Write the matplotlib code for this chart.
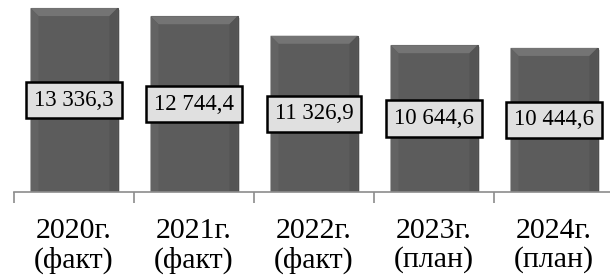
import matplotlib
matplotlib.use("Agg")
import matplotlib.pyplot as plt
import numpy as np
from matplotlib.patches import Polygon

plt.rcParams["font.family"] = ["Liberation Serif", "DejaVu Serif"]

categories = ["2020г.\n(факт)", "2021г.\n(факт)", "2022г.\n(факт)", "2023г.\n(план)", "2024г.\n(план)"]
values = [13336.3, 12744.4, 11326.9, 10644.6, 10444.6]
labels = ["13 336,3", "12 744,4", "11 326,9", "10 644,6", "10 444,6"]

W, H = 610, 277
fig = plt.figure(figsize=(W / 100, H / 100), dpi=100)
ax = fig.add_axes([14 / W, 85 / H, 600 / W, 192 / H])
ax.set_xlim(-0.5, 4.5)
ax.set_ylim(0, 13920)

x = np.arange(len(values))
bw = 0.725
# soft shadow
ax.bar(x + 0.012, values, width=bw + 0.01, bottom=-150, color="#bdbdbd", alpha=0.6, zorder=1, linewidth=0)
bars = ax.bar(x, values, width=bw, color="#5c5c5c", edgecolor="#4f4f4f", linewidth=0.8, zorder=2)

px_y = 13920 / 192
px_x = 5 / 600
for b in bars:
    x0, x1 = b.get_x(), b.get_x() + b.get_width()
    top = b.get_height()
    d = 8 * px_y
    dx = 8 * px_x
    ax.add_patch(Polygon([[x0, top], [x1, top], [x1 - dx, top - d], [x0 + dx, top - d]],
                         closed=True, facecolor="#747474", edgecolor="none", zorder=3))
    ax.add_patch(Polygon([[x0, top], [x0 + dx, top - d], [x0 + dx, 0], [x0, 0]],
                         closed=True, facecolor="#636363", edgecolor="none", zorder=3))
    ax.add_patch(Polygon([[x1, top], [x1 - dx, top - d], [x1 - dx, 0], [x1, 0]],
                         closed=True, facecolor="#545454", edgecolor="none", zorder=3))

for xi, v, lab in zip(x, values, labels):
    ax.text(xi, v / 2, lab, ha="center", va="center", fontsize=16.5,
            color="black", zorder=5,
            bbox=dict(boxstyle="square,pad=0.34", facecolor="#e0e0e0",
                      edgecolor="black", linewidth=1.8))

for s in ["top", "right", "left"]:
    ax.spines[s].set_visible(False)
ax.spines["bottom"].set_color("#8c8c8c")
ax.spines["bottom"].set_linewidth(1.2)
ax.spines["bottom"].set_zorder(4)
ax.set_yticks([])

ax.set_xticks(np.arange(-0.5, 5.0, 1.0))
ax.set_xticklabels([])
ax.tick_params(axis="x", which="major", length=8, width=1.2, color="#8c8c8c", direction="out")
ax.set_xticks(x, minor=True)
ax.set_xticklabels(categories, minor=True, fontsize=21.5, linespacing=1.1)
ax.tick_params(axis="x", which="minor", length=0, pad=19)

fig.savefig("out.png", dpi=100)
